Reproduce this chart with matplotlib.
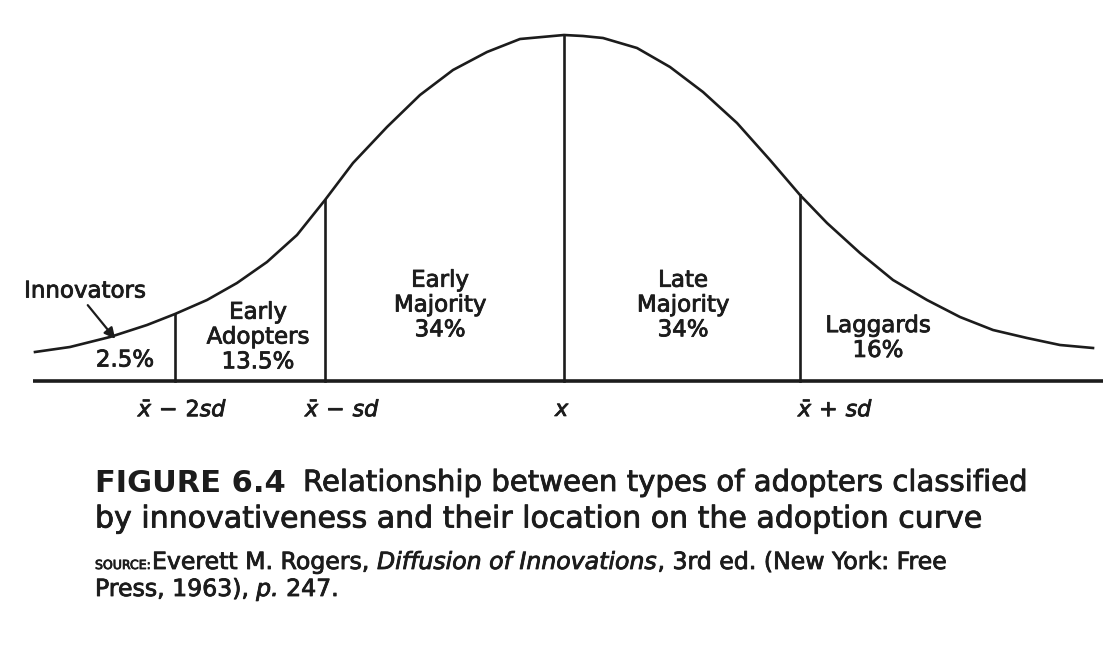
import matplotlib
matplotlib.use("Agg")
import matplotlib.pyplot as plt
import matplotlib.patheffects as pe

# adoption curve (position along the axis, height above baseline)
curve_x = [35, 70, 110, 147, 175, 207, 237, 267, 297, 325, 353, 387, 420, 453,
           487, 520, 542, 564, 583, 603, 637, 670, 703, 737, 770, 800, 827, 860,
           893, 927, 960, 993, 1027, 1060, 1093]
curve_h = [29, 34, 44, 56, 67, 81, 98, 119, 146, 181, 218, 254, 286, 311,
           329, 342, 344, 346, 345, 343, 333, 314, 289, 258, 221, 186, 158, 128,
           101, 81, 64, 51, 43, 36, 33]

# dividers between the adopter groups
divider_x = [175, 325, 564, 800]
divider_h = [67, 181, 346, 186]
divider_labels = [r"$\bar{x}\,-\,2sd$", r"$\bar{x}\,-\,sd$", r"$x$", r"$\bar{x}\,+\,sd$"]
divider_label_x = [183, 343, 563, 836]

# group labels
groups = ["Early\nAdopters", "Early\nMajority", "Late\nMajority", "Laggards"]
shares = ["13.5%", "34%", "34%", "16%"]
group_x = [258, 440, 683, 878]
group_y = [44, 76, 76, 43]

innov_label = "Innovators"
innov_share = "2.5%"

ink = "#1c1c1c"
heavy = [pe.withStroke(linewidth=0.6, foreground=ink)]
plt.rcParams["mathtext.fontset"] = "dejavusans"

fig = plt.figure(figsize=(11.16, 6.5), dpi=100)
ax = fig.add_axes([0, 0, 1, 1])
ax.set_xlim(0, 1116)
ax.set_ylim(-269, 381)
ax.axis("off")

# baseline
ax.plot([33, 1103], [0, 0], color=ink, lw=2.6, solid_capstyle="butt")
# curve
ax.plot(curve_x, curve_h, color=ink, lw=1.9, solid_joinstyle="round")
# vertical dividers
for x, h in zip(divider_x, divider_h):
    ax.plot([x, x], [0, h], color=ink, lw=1.9)

# axis labels under the dividers
for x, lab in zip(divider_label_x, divider_labels):
    ax.text(x, -29, lab, ha="center", va="center", fontsize=16, color=ink,
            path_effects=heavy)

# group names and shares
for x, y, g, s in zip(group_x, group_y, groups, shares):
    ax.text(x, y, g + "\n" + s, ha="center", va="center", fontsize=16.5,
            color=ink, linespacing=1.1, path_effects=heavy)

# innovators with arrow
ax.text(85, 90, innov_label, ha="center", va="center", fontsize=16.5, color=ink,
        path_effects=heavy)
ax.text(125, 21, innov_share, ha="center", va="center", fontsize=16.5, color=ink,
        path_effects=heavy)
ax.annotate("", xy=(117, 40), xytext=(86, 78),
            arrowprops=dict(arrowstyle="-|>", color=ink, lw=1.6, mutation_scale=16))

# caption
ax.text(95, -102, "FIGURE 6.4", fontsize=22, fontweight="bold", color=ink,
        ha="left", va="center")
ax.text(303, -102, "Relationship between types of adopters classified",
        fontsize=21, color=ink, ha="left", va="center", path_effects=heavy)
ax.text(95, -138, "by innovativeness and their location on the adoption curve",
        fontsize=21.6, color=ink, ha="left", va="center", path_effects=heavy)

# source line
src_size = 17
ax.text(95, -188, "SOURCE:", fontsize=9, color=ink, ha="left", va="baseline",
        path_effects=heavy)
t = ax.text(152, -188, "Everett M. Rogers, ", fontsize=src_size, color=ink,
            ha="left", va="baseline", path_effects=heavy)
t = ax.annotate("Diffusion of Innovations", xy=(1, 0), xycoords=t, fontsize=src_size,
                style="italic", color=ink, ha="left", va="bottom", path_effects=heavy)
ax.annotate(", 3rd ed. (New York: Free", xy=(1, 0), xycoords=t, fontsize=src_size,
            color=ink, ha="left", va="bottom", path_effects=heavy)
t = ax.text(95, -215, "Press, 1963), ", fontsize=src_size, color=ink,
            ha="left", va="baseline", path_effects=heavy)
t = ax.annotate("p.", xy=(1, 0), xycoords=t, fontsize=src_size, style="italic",
                color=ink, ha="left", va="bottom", path_effects=heavy)
ax.annotate(" 247.", xy=(1, 0), xycoords=t, fontsize=src_size, color=ink,
            ha="left", va="bottom", path_effects=heavy)

fig.savefig("out.png", dpi=100, facecolor="white")
